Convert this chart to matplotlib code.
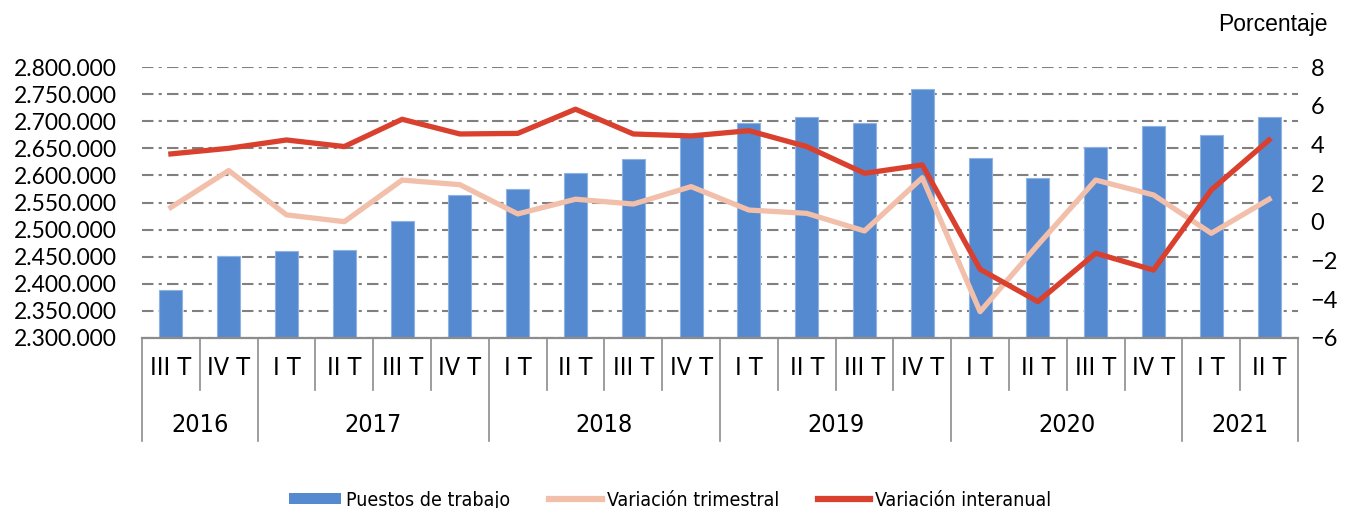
import matplotlib
matplotlib.use('Agg')
import matplotlib.pyplot as plt
from matplotlib.patches import Patch
from matplotlib.lines import Line2D
from matplotlib.ticker import FuncFormatter, MultipleLocator

# Datos
trimestres = ['III T', 'IV T',
              'I T', 'II T', 'III T', 'IV T',
              'I T', 'II T', 'III T', 'IV T',
              'I T', 'II T', 'III T', 'IV T',
              'I T', 'II T', 'III T', 'IV T',
              'I T', 'II T']
anios = ['2016', '2017', '2018', '2019', '2020', '2021']
trimestres_por_anio = [2, 4, 4, 4, 4, 2]

puestos = [2389000, 2451000, 2460500, 2461500, 2516000, 2564000,
           2574000, 2605000, 2630000, 2673000,
           2696000, 2708000, 2696000, 2759000,
           2631500, 2596000, 2653000, 2690500,
           2675000, 2708000]
var_trimestral = [0.75, 2.65, 0.36, 0.01, 2.16, 1.92,
                  0.41, 1.17, 0.92, 1.82,
                  0.61, 0.44, -0.47, 2.28,
                  -4.64, -1.19, 2.16, 1.39,
                  -0.59, 1.17]
var_interanual = [3.51, 3.80, 4.23, 3.89, 5.30, 4.54,
                  4.57, 5.82, 4.54, 4.44,
                  4.71, 3.89, 2.51, 2.94,
                  -2.45, -4.12, -1.62, -2.49,
                  1.65, 4.23]

color_barras = '#558ad0'
color_trim = '#f2bfaa'
color_inter = '#d9412e'
gris = '#8c8c8c'

num_font = 'Lato'
narrow = dict(family='DejaVu Sans', stretch='condensed')

W, H = 1346, 508
fig = plt.figure(figsize=(W / 100, H / 100), dpi=100)
ax = fig.add_axes([142 / W, (H - 338) / H, (1298 - 142) / W, 271 / H])
ax2 = ax.twinx()

x = list(range(len(puestos)))

# Barras
ax.bar(x, puestos, width=0.40, color=color_barras, edgecolor='#8fb3e3',
       linewidth=0.8, zorder=2)
ax.set_ylim(2300000, 2800000)
ax.set_xlim(-0.5, len(puestos) - 0.5)
ax.yaxis.set_major_locator(MultipleLocator(50000))
ax.yaxis.set_major_formatter(FuncFormatter(lambda v, p: f'{v:,.0f}'.replace(',', '.')))
ax.set_axisbelow(True)
ax.grid(axis='y', color='#808080', linewidth=1.5, linestyle=(0, (5.5, 2.5, 1.5, 2.5)))
ax.tick_params(axis='y', length=0, pad=18, labelsize=16.5)
ax.tick_params(axis='x', length=0, labelbottom=False)
for lab in ax.get_yticklabels():
    lab.set_fontfamily(num_font)

# Lineas
ax2.plot(x, var_trimestral, color=color_trim, linewidth=3.8, zorder=3,
         solid_joinstyle='round')
ax2.plot(x, var_interanual, color=color_inter, linewidth=3.8, zorder=4,
         solid_joinstyle='round')
ax2.set_ylim(-6, 8)
ax2.yaxis.set_major_locator(MultipleLocator(2))
ax2.tick_params(axis='y', length=0, pad=9, labelsize=17)
for lab in ax2.get_yticklabels():
    lab.set_fontfamily(num_font)

for a in (ax, ax2):
    for s in ['top', 'left', 'right', 'bottom']:
        a.spines[s].set_visible(False)

# Eje de categorias en dos niveles
tr = ax.get_xaxis_transform()
ax.plot([-0.5, len(puestos) - 0.5], [0, 0], color=gris, linewidth=1.6,
        transform=tr, clip_on=False, zorder=5)
y_corta = -0.192
y_larga = -0.380
limites_anio = [-0.5]
for n in trimestres_por_anio:
    limites_anio.append(limites_anio[-1] + n)
for i in range(len(puestos) + 1):
    b = i - 0.5
    y_fin = y_larga if b in limites_anio else y_corta
    ax.plot([b, b], [0, y_fin], color=gris, linewidth=1.2, transform=tr,
            clip_on=False)
for i, t in enumerate(trimestres):
    ax.text(i, -0.111, t, transform=tr, ha='center', va='center',
            fontsize=18, **narrow)
for k, a in enumerate(anios):
    c = (limites_anio[k] + limites_anio[k + 1]) / 2
    ax.text(c, -0.321, a, transform=tr, ha='center', va='center',
            fontsize=18, **narrow)

fig.text(1328 / W, (H - 25) / H, 'Porcentaje', ha='right', va='center',
         fontsize=16.5, family=['Liberation Sans', 'DejaVu Sans'])

# Leyenda
handles = [Patch(facecolor=color_barras, edgecolor='none'),
           Line2D([], [], color=color_trim, linewidth=4.5),
           Line2D([], [], color=color_inter, linewidth=4.5)]
labels = ['Puestos de trabajo', 'Variación trimestral', 'Variación interanual']
fig.legend(handles, labels, loc='center', ncol=3, frameon=False,
           bbox_to_anchor=(670 / W, (H - 500) / H),
           prop={'family': 'DejaVu Sans', 'stretch': 'condensed', 'size': 14},
           handlelength=2.7, handleheight=0.55, handletextpad=0.25,
           columnspacing=2.0, borderpad=0)

fig.savefig('out.png', dpi=100)
